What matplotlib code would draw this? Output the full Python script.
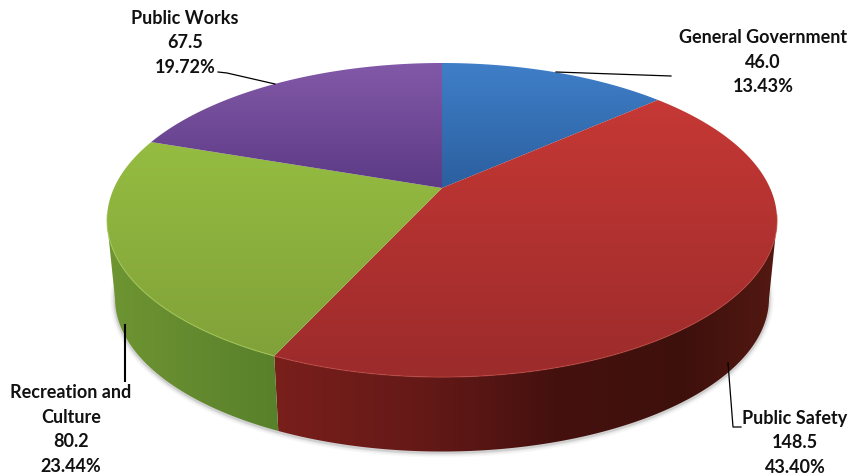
import numpy as np
import matplotlib
matplotlib.use('Agg')
import matplotlib.pyplot as plt
from matplotlib.colors import LinearSegmentedColormap
from matplotlib.patches import Polygon

categories = ['General Government', 'Public Safety', 'Recreation and\nCulture', 'Public Works']
values = [46.0, 148.5, 80.2, 67.5]
percents = ['13.43%', '43.40%', '23.44%', '19.72%']

top_light = ['#3f7fc8', '#cb3a36', '#9cc644', '#8259a8']
top_dark = ['#2b5f9f', '#9c2b2b', '#7f9f38', '#5c3a85']
rim_color = ['#6f9bd0', '#bf4640', '#a6cc58', '#9273b5']
# side colours from left to right of the pie, only the front two slices show
side_stops = {
    1: [(0.0, '#7a1f1c'), (0.3, '#641917'), (0.55, '#45110f'), (0.8, '#3e100c'), (1.0, '#551912')],
    2: [(0.0, '#6f9632'), (0.5, '#648a2f'), (1.0, '#56802a')],
}

# pixel geometry of the tilted disc, y runs downward
CX, CY = 442, 188
A, B, K = 328, 150.5, 0.204
DEPTH_Y, DEPTH_SCALE = 267, 0.976
# where the outline of the side leaves the rim
SIDE_FROM, SIDE_TO = 102, 258

plt.rcParams['font.family'] = ['Lato', 'DejaVu Sans']
fig = plt.figure(figsize=(8.52, 4.76), dpi=100)
ax = fig.add_axes([0, 0, 1, 1])
ax.set_xlim(0, 852)
ax.set_ylim(476, 0)
ax.axis('off')


def rim(a0, a1, lower=False):
    t = np.radians(np.linspace(a0, a1, 200))
    u, v = np.sin(t), np.cos(t)
    d = 1 + K * v
    x, y = A * u / d, -B * v / d
    if lower:
        return CX + DEPTH_SCALE * x, DEPTH_Y + DEPTH_SCALE * y
    return CX + x, CY + y


def fill_gradient(poly, colors, extent, horizontal=False, zorder=2):
    ax.add_patch(poly)
    cmap = LinearSegmentedColormap.from_list('g', colors)
    grad = np.linspace(0, 1, 256)
    grad = grad[None, :] if horizontal else grad[:, None]
    im = ax.imshow(grad, cmap=cmap, extent=extent, aspect='auto', zorder=zorder,
                   interpolation='bilinear', origin='upper')
    im.set_clip_path(poly)


angles = np.cumsum([0] + values) / np.sum(values) * 360

# soft shadow under the pie
sx, sy = rim(SIDE_FROM - 10, SIDE_TO + 4, lower=True)
for w, al in zip([7, 5, 3, 2], [0.04, 0.06, 0.09, 0.12]):
    ax.plot(sx, sy + 1, color='#555555', lw=w, alpha=al, zorder=1, solid_capstyle='round')

# sides
for i in side_stops:
    a0, a1 = max(angles[i], SIDE_FROM), min(angles[i + 1], SIDE_TO)
    x0, y0 = rim(a0, a1)
    x1, y1 = rim(a0, a1, lower=True)
    pts = np.column_stack([np.r_[x0, x1[::-1]], np.r_[y0, y1[::-1]]])
    poly = Polygon(pts, closed=True, fc='none', ec='none', zorder=2)
    ext = (100, 285, 476, 0) if i == 2 else (270, 785, 476, 0)
    fill_gradient(poly, side_stops[i], ext, horizontal=True, zorder=2)

# top face
for i in range(len(values)):
    x, y = rim(angles[i], angles[i + 1])
    pts = np.column_stack([np.r_[CX, x], np.r_[CY, y]])
    poly = Polygon(pts, closed=True, fc='none', ec='none', zorder=3)
    ext = (0, 852, 377, 63) if i in (1, 2) else (0, 852, 188, 63)
    fill_gradient(poly, [top_light[i], top_dark[i]], ext, zorder=3)

# pale edge where the top meets the side
for i in (1, 2):
    x, y = rim(max(angles[i], 100), min(angles[i + 1], 260))
    ax.plot(x, y, color=rim_color[i], lw=0.9, alpha=0.6, zorder=4)

# leader lines
ax.plot([556, 671], [72, 76], color='black', lw=0.9, zorder=5)
ax.plot([218, 227, 275], [72, 73, 84], color='black', lw=0.9, zorder=5)
ax.plot([125, 125], [325, 381], color='black', lw=1.5, zorder=5)
ax.plot([728, 733, 741], [363, 427, 427], color='black', lw=0.9, zorder=5)

# labels
label_x = [763, 795, 71, 185]
label_y = [62, 443, 429.5, 43]
for i, name in enumerate(categories):
    ax.text(label_x[i], label_y[i], f'{name}\n{values[i]:.1f}\n{percents[i]}',
            ha='center', va='center', fontsize=13, fontweight='bold',
            color='#111111', linespacing=1.53, zorder=6)

fig.savefig('out.png', dpi=100)
